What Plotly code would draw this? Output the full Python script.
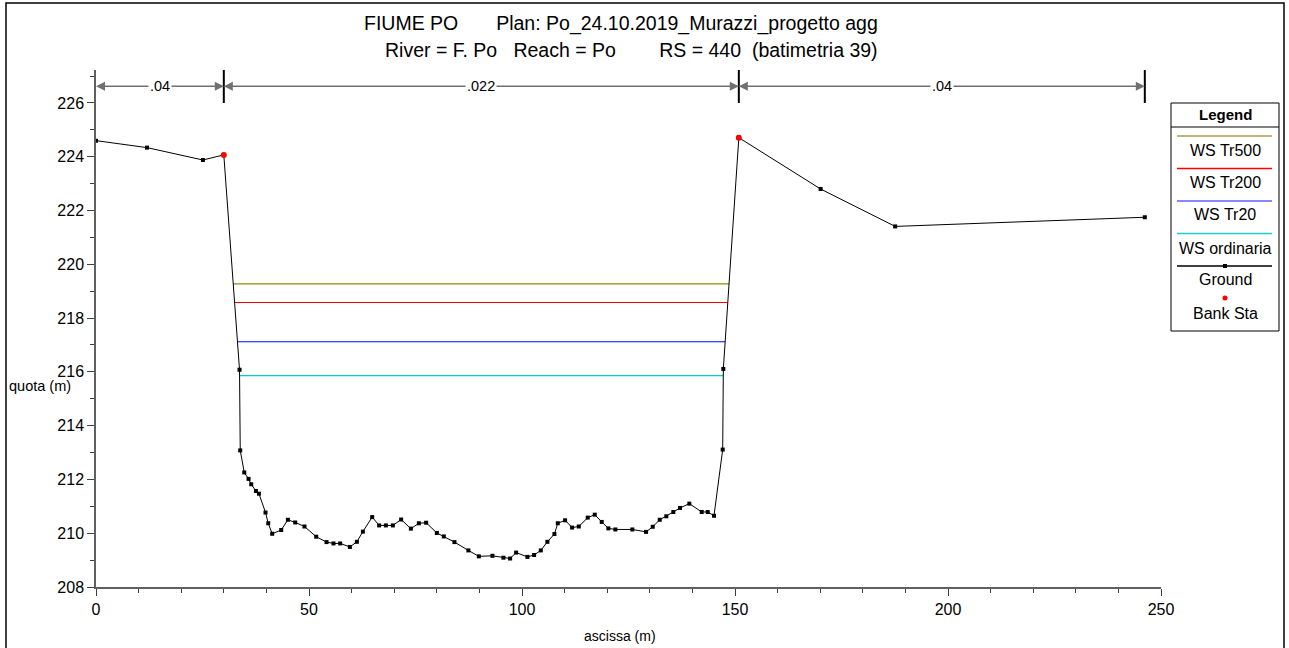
import numpy as np
import plotly.graph_objects as go

# ---------------- data ----------------
ground_x = [0.0, 11.97, 25.1, 30.0, 33.69, 33.86, 34.80, 35.81, 36.44, 37.54, 38.25, 39.79,
            40.43, 41.36, 43.48, 45.05, 46.76, 48.94, 51.69, 54.11, 55.75, 57.32, 59.60,
            61.24, 62.65, 64.83, 66.47, 68.04, 69.69, 71.63, 73.91, 75.79, 77.50, 80.01,
            81.65, 84.14, 87.42, 89.87, 93.06, 95.64, 97.21, 98.62, 101.27, 102.84, 104.41,
            105.96, 107.61, 108.40, 110.12, 111.76, 113.33, 115.44, 117.08, 118.72, 120.27,
            121.92, 125.90, 129.12, 130.69, 132.33, 133.88, 135.52, 137.10, 139.28, 142.19,
            143.60, 145.07, 147.11, 147.26, 150.9, 170.1, 187.6, 246.2]
ground_y = [224.60, 224.34, 223.88, 224.07, 216.08, 213.08, 212.26, 212.02, 211.82, 211.57,
            211.47, 210.77, 210.37, 209.98, 210.12, 210.50, 210.40, 210.25, 209.87, 209.67,
            209.62, 209.62, 209.49, 209.68, 210.06, 210.60, 210.29, 210.29, 210.29, 210.51,
            210.17, 210.37, 210.39, 210.01, 209.88, 209.67, 209.36, 209.14, 209.16, 209.09,
            209.06, 209.28, 209.12, 209.19, 209.36, 209.68, 209.97, 210.37, 210.48, 210.21,
            210.25, 210.58, 210.69, 210.42, 210.18, 210.14, 210.14, 210.05, 210.24, 210.50,
            210.63, 210.79, 210.94, 211.10, 210.79, 210.79, 210.65, 213.11, 216.11, 224.71,
            222.80, 221.41, 221.75]
bank_x = [30.0, 150.9]

ws_names = ["WS Tr500", "WS Tr200", "WS Tr20", "WS ordinaria"]
ws_levels = [219.27, 218.58, 217.12, 215.86]
ws_colors = ["#8C8C00", "#FF0000", "#0000FF", "#00CCCC"]
ws_legend_colors = ["#A0A050", "#FF0000", "#6060FF", "#20CCCC"]

n_values = [".04", ".022", ".04"]

NB = "&nbsp;"
title_line1 = "FIUME PO" + NB * 7 + "Plan: Po_24.10.2019_Murazzi_progetto agg"
title_line2 = ("River = F. Po" + NB * 3 + "Reach = Po" + NB * 8 +
               "RS = 440" + NB * 2 + "(batimetria 39)")
x_title = "ascissa (m)"
y_title = "quota (m)"
x_range = [0, 250]
y_min = 208

# ---------------- layout geometry ----------------
W, H = 1289, 648
ML, MR, MT, MB = 96, 128, 70, 61
PW, PH = W - ML - MR, H - MT - MB
y_max = y_min + PH / 26.89
FONT = "Liberation Sans, Arial, sans-serif"


def px2x(px):
    return (px - ML) / PW


def py2y(py):
    return 1 - (py - MT) / PH


gx = np.array(ground_x)
gy = np.array(ground_y)
bank_y = [float(np.interp(b, gx, gy)) for b in bank_x]
ib_left = int(np.argmin(np.abs(gx - bank_x[0])))
ib_right = int(np.argmin(np.abs(gx - bank_x[1])))


def crossings(level):
    xl = None
    for i in range(ib_left, ib_right):
        if gy[i] >= level > gy[i + 1]:
            xl = gx[i] + (gy[i] - level) / (gy[i] - gy[i + 1]) * (gx[i + 1] - gx[i])
            break
    xr = None
    for j in range(ib_right, ib_left, -1):
        if gy[j] >= level > gy[j - 1]:
            xr = gx[j - 1] + (level - gy[j - 1]) / (gy[j] - gy[j - 1]) * (gx[j] - gx[j - 1])
            break
    return xl, xr


fig = go.Figure()
for name, lev, col in zip(ws_names, ws_levels, ws_colors):
    xl, xr = crossings(lev)
    fig.add_trace(go.Scatter(x=[xl, xr], y=[lev, lev], mode="lines", name=name,
                             line=dict(color=col, width=1.2), showlegend=False))

fig.add_trace(go.Scatter(x=ground_x, y=ground_y, mode="lines+markers", name="Ground",
                         line=dict(color="black", width=1),
                         marker=dict(symbol="square", size=4, color="black"),
                         showlegend=False))
fig.add_trace(go.Scatter(x=bank_x, y=bank_y, mode="markers", name="Bank Sta",
                         marker=dict(symbol="circle", size=6, color="red"),
                         showlegend=False))

shapes = []
annotations = []


def text_at(px, py, text, size, xanchor="center"):
    annotations.append(dict(x=px2x(px), y=py2y(py), xref="paper", yref="paper", text=text,
                            xanchor=xanchor, yanchor="middle", showarrow=False,
                            font=dict(family=FONT, size=size, color="black")))


# n-value markers above the plot
stations = [ground_x[0]] + bank_x + [ground_x[-1]]
arrow_y = 226.62
for k, nv in enumerate(n_values):
    a, b = stations[k], stations[k + 1]
    c = (a + b) / 2
    for tip in (a, b):
        annotations.append(dict(x=tip, y=arrow_y, ax=c, ay=arrow_y, xref="x", yref="y",
                                axref="x", ayref="y", text="", showarrow=True,
                                arrowhead=2, arrowsize=1.2, arrowwidth=1.5,
                                arrowcolor="#707070", standoff=0, startstandoff=0))
    annotations.append(dict(x=c, y=arrow_y, xref="x", yref="y", text=nv, showarrow=False,
                            xanchor="center", yanchor="middle",
                            bgcolor="white", borderpad=1,
                            font=dict(family=FONT, size=14.5, color="black")))
for s in stations[1:]:
    shapes.append(dict(type="line", xref="x", yref="y", x0=s, x1=s, y0=226.0, y1=y_max,
                       line=dict(color="black", width=2)))

# titles
text_at(621, 23, title_line1, 19.5)
text_at(631, 50, title_line2, 19.5)
text_at(620, 636, x_title, 14)
text_at(7, 386, y_title, 14.5, xanchor="left")

# outer frame
shapes.append(dict(type="rect", xref="paper", yref="paper", x0=px2x(6), x1=px2x(1284),
                   y0=py2y(3), y1=py2y(660), line=dict(color="black", width=1.5)))

# custom legend
LX0, LX1, LY0, LY1 = 1171, 1279, 103, 331
LC = (LX0 + LX1) / 2
shapes.append(dict(type="rect", xref="paper", yref="paper", x0=px2x(LX0), x1=px2x(LX1),
                   y0=py2y(LY0), y1=py2y(LY1), line=dict(color="black", width=1),
                   fillcolor="white"))
shapes.append(dict(type="line", xref="paper", yref="paper", x0=px2x(LX0), x1=px2x(LX1),
                   y0=py2y(127), y1=py2y(127), line=dict(color="black", width=1)))
text_at(LC, 114, "<b>Legend</b>", 15)
line_ys = [136, 168.5, 201, 233.5, 266]
text_ys = [150, 182.5, 215, 248, 279.5]
leg_names = ws_names + ["Ground"]
leg_cols = ws_legend_colors + ["black"]
for nm, col, ly, ty in zip(leg_names, leg_cols, line_ys, text_ys):
    shapes.append(dict(type="line", xref="paper", yref="paper", x0=px2x(1177), x1=px2x(1272),
                       y0=py2y(ly), y1=py2y(ly), line=dict(color=col, width=1.5)))
    text_at(LC, ty, nm, 16)
shapes.append(dict(type="rect", xref="paper", yref="paper", x0=px2x(LC - 2), x1=px2x(LC + 2),
                   y0=py2y(264), y1=py2y(268), fillcolor="black", line=dict(width=0)))
shapes.append(dict(type="circle", xref="paper", yref="paper", x0=px2x(LC - 2.5),
                   x1=px2x(LC + 2.5), y0=py2y(295.5), y1=py2y(300.5), fillcolor="red",
                   line=dict(width=0)))
text_at(LC, 313, "Bank Sta", 16)

fig.update_layout(
    width=W, height=H,
    margin=dict(l=ML, r=MR, t=MT, b=MB, pad=0),
    paper_bgcolor="white", plot_bgcolor="white",
    showlegend=False,
    shapes=shapes, annotations=annotations,
    font=dict(family=FONT, size=16, color="black"),
)
fig.update_xaxes(range=x_range, showgrid=False, zeroline=False, showline=True,
                 linecolor="#606060", linewidth=1.5, ticks="outside", ticklen=7,
                 tickcolor="#404040", tick0=0, dtick=50,
                 minor=dict(ticks="outside", ticklen=4, dtick=10, tickcolor="#404040"),
                 tickfont=dict(family=FONT, size=16))
fig.update_yaxes(range=[y_min, y_max], showgrid=False, zeroline=False, showline=True,
                 linecolor="#606060", linewidth=1.5, ticks="outside", ticklen=7,
                 tickcolor="#404040", tick0=208, dtick=2,
                 minor=dict(ticks="outside", ticklen=4, dtick=1, tickcolor="#404040"),
                 tickfont=dict(family=FONT, size=16))

fig.write_html("out.html", config={"displayModeBar": False},
               post_script="document.body.style.margin='0';document.body.style.overflow='hidden';")
